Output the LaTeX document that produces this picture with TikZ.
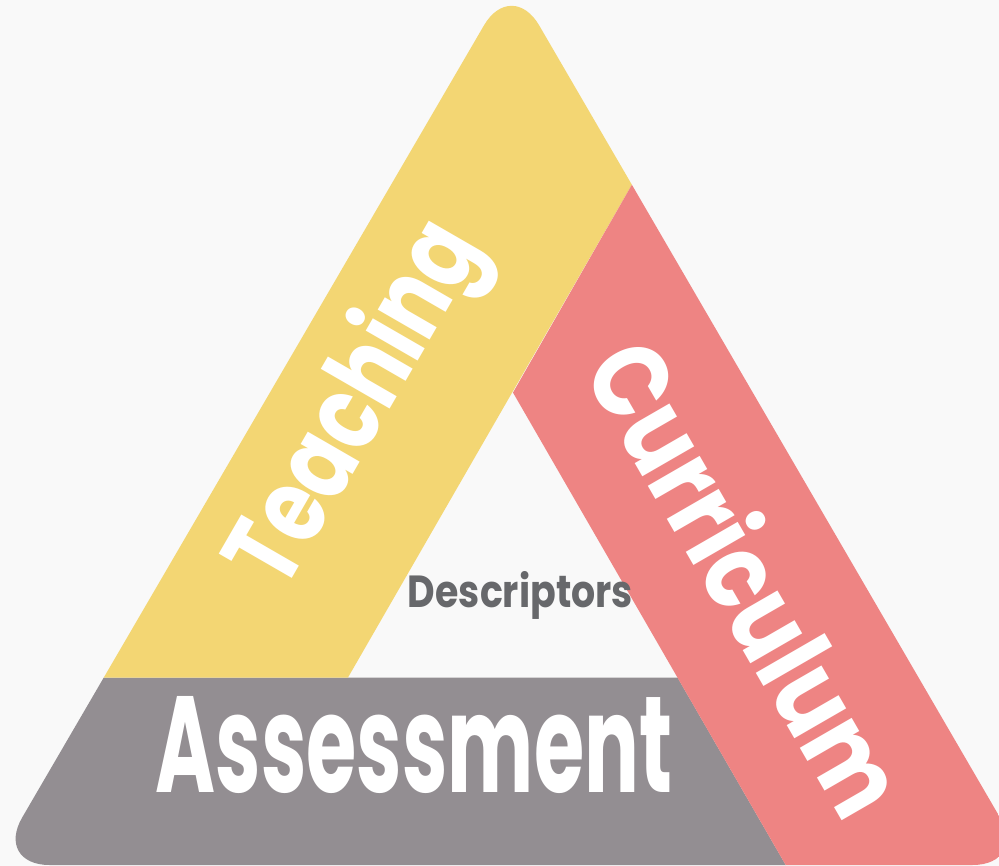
\documentclass[tikz,border=0pt]{standalone}
\usepackage{fontspec}
\setmainfont{Poppins}
\usepackage{graphicx}
\definecolor{bg}{HTML}{F9F9F9}
\definecolor{teachcol}{HTML}{F3D673}
\definecolor{currcol}{HTML}{EE8483}
\definecolor{asscol}{HTML}{938E92}
\definecolor{desccol}{HTML}{67686B}
\tikzset{
  lbl/.style={inner sep=0pt, anchor=base, text=white, font=\bfseries},
  desclbl/.style={inner sep=0pt, anchor=base, text=desccol, font=\bfseries}
}
\begin{document}
\begin{tikzpicture}[x=1pt,y=-1pt]
\useasboundingbox (0,0) rectangle (999,866);
\fill[bg] (0,0) rectangle (999,866);
\begin{scope}
  \clip[rounded corners=55pt] (511.6,-22) -- (1027.6,865) -- (-5.5,865) -- cycle;
  % Assessment band
  \fill[asscol] (-100,677.5) -- (677.5,677.5) -- (805.9,900) -- (-100,900) -- cycle;
  % Teaching band
  \fill[teachcol] (-100,-100) -- (700,-100) -- (631.8,184.8) -- (348,677.5) -- (-100,677.5) -- cycle;
  % Curriculum band
  \fill[currcol] (631.8,184.8) -- (1200,184.8) -- (1200,900) -- (805.9,900) -- (513,392.6) -- cycle;
\end{scope}
\node[lbl, rotate=60] (teaching) at (384,420) {\resizebox{400pt}{86pt}{Teaching}};
\node[lbl, rotate=-60] (curriculum) at (713,598) {\resizebox{525pt}{86pt}{Curriculum}};
\node[lbl] (assessment) at (414,792) {\resizebox{516pt}{96pt}{Assessment}};
\node[desclbl] (descriptors) at (520.5,607) {\resizebox{225pt}{36pt}{Descriptors}};
\end{tikzpicture}
\end{document}
